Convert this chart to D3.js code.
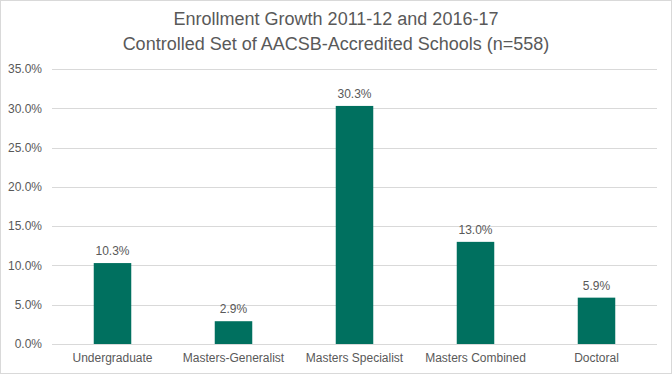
<!DOCTYPE html>
<html><head><meta charset="utf-8">
<script src="https://cdn.jsdelivr.net/npm/d3@7"></script>
<style>
html,body{margin:0;padding:0;background:#fff;}
svg{display:block;font-family:"Liberation Sans",Arial,sans-serif;}
</style></head>
<body>
<svg id="chart" width="672" height="374"></svg>
<script>
const categories = ["Undergraduate","Masters-Generalist","Masters Specialist","Masters Combined","Doctoral"];
const values = [10.3, 2.9, 30.3, 13.0, 5.9];
const yTicks = [0,5,10,15,20,25,30,35];
const titleLines = ["Enrollment Growth 2011-12 and 2016-17","Controlled Set of AACSB-Accredited Schools (n=558)"];

const W = 672, H = 374;
const margin = {left:52, right:15, top:69, bottom:30};
const svg = d3.select("#chart");

svg.append("rect").attr("x",0.5).attr("y",0.5).attr("width",W-1).attr("height",H-1)
  .attr("fill","#fff").attr("stroke","#d9d9d9");

const x = d3.scaleBand().domain(categories).range([margin.left, W-margin.right]).paddingInner(0.69).paddingOuter(0.345);
const y = d3.scaleLinear().domain([0,35]).range([H-margin.bottom, margin.top]);

// gridlines
svg.append("g").selectAll("line").data(yTicks).join("line")
  .attr("x1",margin.left).attr("x2",W-margin.right)
  .attr("y1",d=>Math.round(y(d))+0.5).attr("y2",d=>Math.round(y(d))+0.5)
  .attr("stroke","#d9d9d9").attr("stroke-width",1);

// y axis labels
const yAxis = d3.axisLeft(y).tickValues(yTicks).tickFormat(d=>d.toFixed(1)+"%").tickSize(0).tickPadding(10);
const gy = svg.append("g").attr("transform",`translate(${margin.left},0)`).call(yAxis);
gy.select(".domain").remove();
gy.selectAll("text").attr("fill","#595959").style("font-size","12px").style("font-family","'Liberation Sans',Arial,sans-serif");

// x axis labels
const xAxis = d3.axisBottom(x).tickSize(0).tickPadding(9);
const gx = svg.append("g").attr("transform",`translate(0,${H-margin.bottom})`).call(xAxis);
gx.select(".domain").remove();
gx.selectAll("text").attr("fill","#595959").style("font-size","12px").style("font-family","'Liberation Sans',Arial,sans-serif");

// bars
svg.append("g").selectAll("rect").data(values).join("rect")
  .attr("x",(d,i)=>x(categories[i]))
  .attr("width",x.bandwidth())
  .attr("y",d=>y(d))
  .attr("height",d=>y(0)-y(d))
  .attr("fill","#00705F");

// value labels
svg.append("g").selectAll("text").data(values).join("text")
  .attr("x",(d,i)=>x(categories[i])+x.bandwidth()/2)
  .attr("y",d=>y(d)-8)
  .attr("text-anchor","middle")
  .attr("fill","#595959")
  .style("font-size","12px")
  .text(d=>d.toFixed(1)+"%");

// title
svg.append("g").selectAll("text").data(titleLines).join("text")
  .attr("x",336)
  .attr("y",(d,i)=>25+i*25)
  .attr("text-anchor","middle")
  .attr("fill","#595959")
  .style("font-size","18px")
  .text(d=>d);
</script>
</body></html>
